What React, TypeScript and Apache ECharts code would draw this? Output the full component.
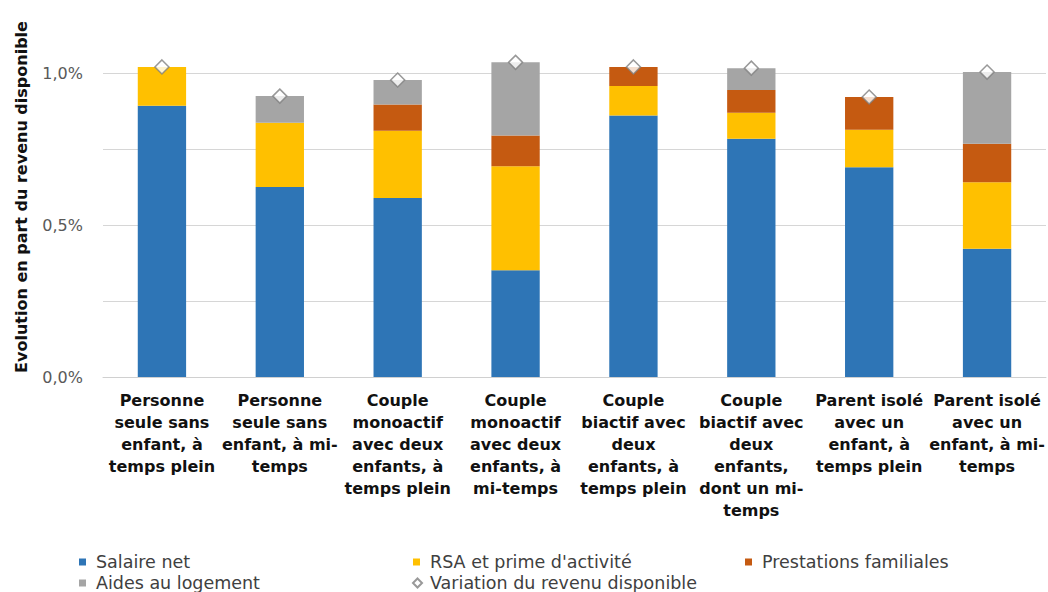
import React, { useEffect, useRef } from "react";
import * as echarts from "echarts";

const categories = [
  "Personne\nseule sans\nenfant, à\ntemps plein",
  "Personne\nseule sans\nenfant, à mi-\ntemps",
  "Couple\nmonoactif\navec deux\nenfants, à\ntemps plein",
  "Couple\nmonoactif\navec deux\nenfants, à\nmi-temps",
  "Couple\nbiactif avec\ndeux\nenfants, à\ntemps plein",
  "Couple\nbiactif avec\ndeux\nenfants,\ndont un mi-\ntemps",
  "Parent isolé\navec un\nenfant, à\ntemps plein",
  "Parent isolé\navec un\nenfant, à mi-\ntemps",
];

const salaireNet = [0.892, 0.625, 0.589, 0.351, 0.86, 0.784, 0.69, 0.422];
const rsaPrime = [0.128, 0.211, 0.221, 0.342, 0.097, 0.085, 0.123, 0.219];
const prestationsFamiliales = [0, 0, 0.086, 0.101, 0.063, 0.075, 0.108, 0.126];
const aidesLogement = [0, 0.088, 0.081, 0.241, 0, 0.072, 0, 0.236];
const variationRevenu = [1.02, 0.924, 0.977, 1.035, 1.02, 1.016, 0.921, 1.003];

const yTicks = [0, 0.5, 1.0];

const FONT = "'DejaVu Sans', Roboto, sans-serif";

export default function App() {
  const ref = useRef<HTMLDivElement>(null);

  useEffect(() => {
    if (!ref.current) return;
    const chart = echarts.init(ref.current, undefined, { renderer: "svg" });

    const barSeries = (name: string, data: number[], color: string) => ({
      name,
      type: "bar",
      stack: "total",
      data,
      barWidth: "41%",
      clip: false,
      itemStyle: { color },
      emphasis: { disabled: true },
    });

    const legendItem = (name: string, left: number, top: number, diamond = false) => ({
      show: true,
      left,
      top,
      data: [name],
      itemWidth: diamond ? 9 : 7,
      itemHeight: diamond ? 9 : 7,
      icon: diamond ? "diamond" : "rect",
      itemGap: 0,
      padding: 0,
      selectedMode: false,
      textStyle: {
        fontFamily: FONT,
        fontSize: 17.5,
        color: "#404040",
        padding: [0, 0, 0, diamond ? 3 : 5],
      },
    });

    chart.setOption({
      animation: false,
      textStyle: { fontFamily: FONT },
      grid: { left: 103, right: 2, top: 73, bottom: 215, containLabel: false },
      legend: [
        legendItem("Salaire net", 79, 553),
        legendItem("RSA et prime d'activité", 413, 553),
        legendItem("Prestations familiales", 745, 553),
        legendItem("Aides au logement", 79, 574),
        legendItem("Variation du revenu disponible", 412, 574, true),
      ],
      xAxis: {
        type: "category",
        data: categories,
        axisLine: { show: true, lineStyle: { color: "#d0d0d0", width: 1 } },
        axisTick: { show: false },
        axisLabel: {
          interval: 0,
          fontFamily: FONT,
          fontSize: 16,
          fontWeight: "bold",
          lineHeight: 22,
          color: "#111",
          margin: 12,
          align: "center",
        },
      },
      yAxis: {
        type: "value",
        min: 0,
        max: 1.0,
        interval: 0.25,
        axisLine: { show: false },
        axisTick: { show: false },
        splitLine: { lineStyle: { color: "#d6d6d6", width: 1 } },
        axisLabel: {
          fontFamily: FONT,
          fontSize: 16,
          color: "#595959",
          margin: 20,
          formatter: (v: number) => {
            const t = yTicks.find((x) => Math.abs(x - v) < 1e-9);
            return t === undefined ? "" : t.toFixed(1).replace(".", ",") + "%";
          },
        },
      },
      graphic: [
        {
          type: "text",
          x: 21,
          y: 197,
          rotation: Math.PI / 2,
          style: {
            text: "Evolution en part du revenu disponible",
            fontFamily: FONT,
            fontSize: 16,
            fontWeight: "bold",
            fill: "#111",
            align: "center",
            verticalAlign: "middle",
          },
        },
      ],
      series: [
        barSeries("Salaire net", salaireNet, "#2E75B6"),
        barSeries("RSA et prime d'activité", rsaPrime, "#FFC000"),
        barSeries("Prestations familiales", prestationsFamiliales, "#C55A11"),
        barSeries("Aides au logement", aidesLogement, "#A5A5A5"),
        {
          name: "Variation du revenu disponible",
          type: "scatter",
          data: variationRevenu,
          symbol: "diamond",
          symbolSize: 14,
          clip: false,
          z: 5,
          itemStyle: { color: "#ffffff", borderColor: "#7f7f7f", borderWidth: 1.5 },
          emphasis: { disabled: true },
        },
      ],
    });

    return () => chart.dispose();
  }, []);

  return (
    <div
      ref={ref}
      style={{ position: "fixed", left: 0, top: 0, width: 1048, height: 592, background: "#fff" }}
    />
  );
}
